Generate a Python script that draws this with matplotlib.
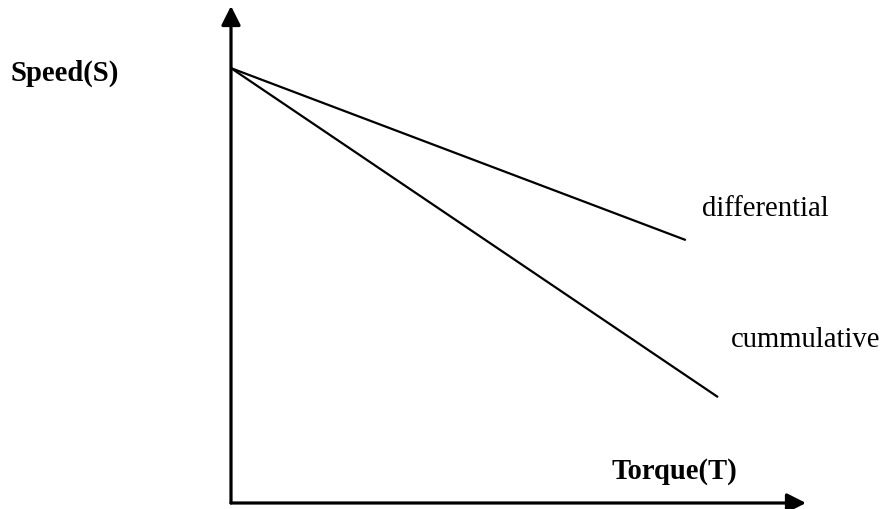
import matplotlib
matplotlib.use("Agg")
import matplotlib.pyplot as plt

# Data (schematic speed-torque characteristics)
series_names = ["differential", "cummulative"]
torque_differential = [0.0, 7.91]
speed_differential = [8.75, 5.29]
torque_cumulative = [0.0, 8.47]
speed_cumulative = [8.75, 2.13]
x_label = "Torque(T)"
y_label = "Speed(S)"

W, H = 885, 510
fig = plt.figure(figsize=(W / 100, H / 100), dpi=100)
fig.patch.set_facecolor("white")

ox, oy = 231, 504
x_end, y_end = 806, 7
ax = fig.add_axes([ox / W, 1 - oy / H, (x_end - ox) / W, (oy - y_end) / H])
ax.set_xlim(0, 10)
ax.set_ylim(0, 10)
ax.axis("off")

# Axes with arrows
arrow_kw = dict(arrowstyle="-|>,head_length=1.15,head_width=0.58",
                lw=2.3, color="black", mutation_scale=10, shrinkA=0, shrinkB=0)
ax.annotate("", xy=(0, 1), xytext=(0, 0), xycoords="axes fraction",
            textcoords="axes fraction", arrowprops=arrow_kw)
ax.annotate("", xy=(1, 0), xytext=(0, 0), xycoords="axes fraction",
            textcoords="axes fraction", arrowprops=arrow_kw)

ax.plot(torque_differential, speed_differential, color="black", lw=1.6,
        solid_capstyle="butt", clip_on=False)
ax.plot(torque_cumulative, speed_cumulative, color="black", lw=1.6,
        solid_capstyle="butt", clip_on=False)

font = "Liberation Serif"
fs = 20.6
fig.text(10 / W, 1 - 81 / H, y_label, fontsize=fs, fontweight="bold",
         family=font, ha="left", va="baseline")
fig.text(612 / W, 1 - 479 / H, x_label, fontsize=fs, fontweight="bold",
         family=font, ha="left", va="baseline")
fig.text(702 / W, 1 - 216 / H, series_names[0], fontsize=fs,
         family=font, ha="left", va="baseline")
fig.text(731 / W, 1 - 347 / H, series_names[1], fontsize=fs,
         family=font, ha="left", va="baseline")

fig.savefig("out.png", dpi=100, facecolor="white")
